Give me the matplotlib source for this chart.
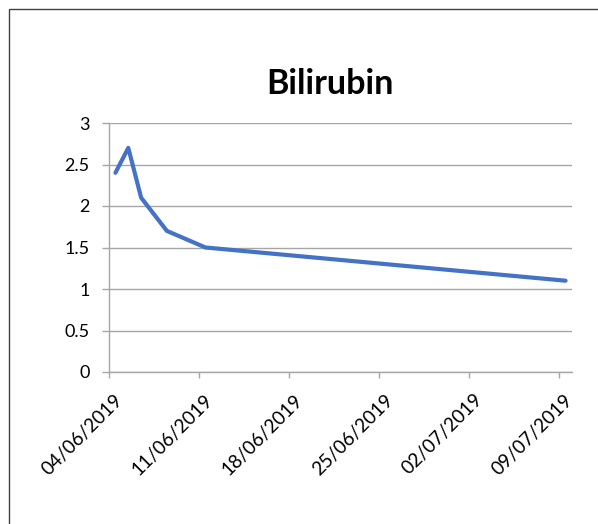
import matplotlib
matplotlib.use("Agg")
import matplotlib.pyplot as plt
import matplotlib.dates as mdates
import matplotlib.transforms as mtransforms
from matplotlib.patches import Rectangle
import pandas as pd

dates = ["2019-06-04", "2019-06-05", "2019-06-06", "2019-06-08", "2019-06-11", "2019-07-09"]
values = [2.4, 2.7, 2.1, 1.7, 1.5, 1.1]
tick_dates = ["2019-06-04", "2019-06-11", "2019-06-18", "2019-06-25", "2019-07-02", "2019-07-09"]
y_ticks = [0, 0.5, 1, 1.5, 2, 2.5, 3]
y_labels = ["0", "0.5", "1", "1.5", "2", "2.5", "3"]
title = "Bilirubin"

plt.rcParams['font.family'] = ['Lato', 'DejaVu Sans']

W, H = 598, 524
fig = plt.figure(figsize=(W / 100, H / 100), dpi=100)
ax = fig.add_axes([109 / W, 1 - 372 / H, (572 - 109) / W, (372 - 123) / H])

# Excel date axis: each date occupies one day slot, point at slot centre
x = pd.to_datetime(dates) + pd.Timedelta(hours=12)
ax.plot(x, values, color="#4472C4", linewidth=3.0, solid_capstyle="round", zorder=3)

xmin = pd.to_datetime(dates[0])
xmax = pd.to_datetime(dates[-1]) + pd.Timedelta(days=1)
ax.set_xlim(xmin, xmax)
ax.set_ylim(0, 3)

ax.set_yticks(y_ticks)
ax.set_yticklabels(y_labels)
ax.set_xticks(pd.to_datetime(tick_dates))
ax.xaxis.set_major_formatter(mdates.DateFormatter("%d/%m/%Y"))

grid_c = "#A6A6A6"
ax.grid(axis="y", color=grid_c, linewidth=1.0, zorder=0)
ax.grid(axis="x", visible=False)
for s in ["top", "right"]:
    ax.spines[s].set_visible(False)
for s in ["left", "bottom"]:
    ax.spines[s].set_color(grid_c)
    ax.spines[s].set_linewidth(1.0)

ax.tick_params(axis="y", length=5, width=1.0, color=grid_c, pad=9, labelsize=13, labelcolor="black")
ax.tick_params(axis="x", length=4, width=1.0, color=grid_c, pad=14, labelsize=13.8, labelcolor="black")

offset = mtransforms.ScaledTranslation(11 / 100, 0, fig.dpi_scale_trans)
for lbl in ax.get_xticklabels():
    lbl.set_rotation(45)
    lbl.set_ha("right")
    lbl.set_va("center")
    lbl.set_rotation_mode("anchor")
    lbl.set_transform(lbl.get_transform() + offset)

fig.text(330 / W, 1 - 84 / H, title, ha="center", va="center", fontsize=24.5, fontweight="bold")

# chart area border (extends past right and bottom edges)
fig.patches.append(Rectangle((9 / W, -0.1), 1.2, 1 - 9 / H + 0.1, transform=fig.transFigure,
                             fill=False, edgecolor="#404040", linewidth=1.0))

fig.savefig("out.png", dpi=100)
